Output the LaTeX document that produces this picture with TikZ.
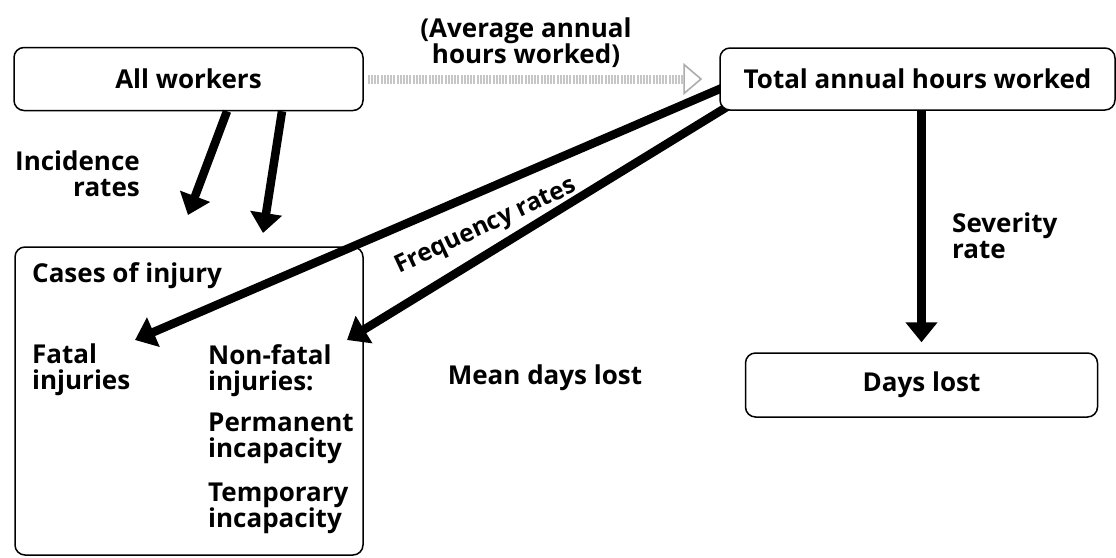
\documentclass[tikz,border=0pt]{standalone}
\usepackage{fontspec}
\setmainfont{Open Sans}
\usetikzlibrary{arrows.meta}
\begin{document}
\begin{tikzpicture}[x=1pt,y=-1pt,
  box/.style={draw, line width=1.5pt, rounded corners=10pt, fill=white, inner sep=0pt},
  lbl/.style={font=\fontsize{26}{26}\selectfont\bfseries, inner sep=0pt},
  fat/.style={line width=8.5pt, -{Triangle[length=20pt,width=31pt]}},
  hazy/.style={draw=gray!45, line width=9pt, dash pattern=on 2pt off 1.2pt,
    -{Triangle[open, length=19pt, width=32pt, line width=1.6pt, color=gray!65]}},
]
\useasboundingbox (0,0) rectangle (1116,557);

% thick connectors, drawn first so the boxes sit on top of their ends
\coordinate (tipA) at (135,340);
\coordinate (tipB) at (347,340);
\draw[fat] (735,82.4) -- (tipA);
\draw[fat] (740,98.9) -- (tipB);

% boxes
\node[box, lbl, minimum width=349pt, minimum height=63pt] (all) at (188.5,79) {All workers};
\node[box, lbl, minimum width=395pt, minimum height=62pt] (total) at (917.5,79) {Total annual hours worked};
\node[box, lbl, minimum width=352pt, minimum height=64pt] (days) at (921.5,385) {Days lost};
\node[draw, line width=1.5pt, rounded corners=10pt, minimum width=348pt, minimum height=308pt] (cases) at (189,401) {};

% contents of the injury box
\node[lbl, anchor=north west] (casestitle) at (32,262) {Cases of injury};
\node[lbl, anchor=north west, align=left] (fatal) at (32,344) {Fatal\\injuries};
\node[lbl, anchor=north west, align=left] (nonfatal) at (208,344) {Non-fatal\\injuries:};
\node[lbl, anchor=north west, align=left] (perm) at (208,413) {Permanent\\incapacity};
\node[lbl, anchor=north west, align=left] (temp) at (208,483) {Temporary\\incapacity};

% incidence arrows
\coordinate (incA) at (188,215);
\coordinate (incB) at (263,233);
\draw[fat] ([xshift=38.5pt]all.south) -- (incA);
\draw[fat] ([xshift=93.5pt]all.south) -- (incB);

% hours worked
\draw[hazy] ([xshift=4pt]all.east) -- ([xshift=-17pt]total.west);

% severity
\draw[fat, line width=9.5pt] (total.south -| days.north) -- ([yshift=10pt]days.north);

% labels
\node[lbl, anchor=north east, align=right] (inclbl) at (140,151) {Incidence\\rates};
\node[lbl, anchor=north, align=center] (avglbl) at (526,18) {(Average annual\\hours worked)};
\node[lbl, anchor=north west, align=left] (sevlbl) at (952,213) {Severity\\rate};
\node[lbl, font=\fontsize{24.5}{26}\selectfont\bfseries, rotate=25] (freqlbl) at (486,227) {Frequency rates};
\node[lbl] (meanlbl) at (545,378) {Mean days lost};
\end{tikzpicture}
\end{document}
